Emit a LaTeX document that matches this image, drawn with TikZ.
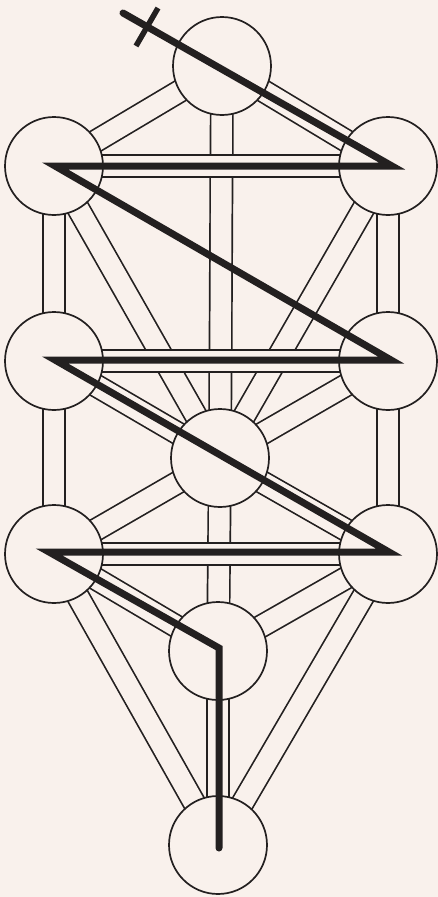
\documentclass[tikz,border=0pt]{standalone}
\definecolor{bg}{RGB}{249,241,236}
\definecolor{ink}{RGB}{35,32,32}
\begin{document}
\begin{tikzpicture}[x=1pt,y=-1pt,
  channel/.style={draw=ink, line width=1.7pt, double=bg, double distance=20.5pt},
  sephira/.style={circle, draw=ink, line width=1.7pt, fill=bg, minimum size=98pt, inner sep=0pt},
  flash/.style={draw=ink, line width=7pt, line join=miter, miter limit=20, line cap=round},
  crossbar/.style={draw=ink, line width=5.5pt}]
\fill[bg] (0,0) rectangle (438,897);
\useasboundingbox (0,0) rectangle (438,897);
% sephirot centres
\coordinate (K) at (222,66);
\coordinate (Bi) at (54,166);
\coordinate (Ch) at (388,166);
\coordinate (Ge) at (54,361);
\coordinate (Cs) at (388,361);
\coordinate (Ti) at (220,458);
\coordinate (Ho) at (54,554);
\coordinate (Ne) at (388,554);
\coordinate (Ye) at (218,651);
\coordinate (Ma) at (218,845);
% paths
\draw[channel] (K) -- (Ch);
\draw[channel] (K) -- (Bi);
\draw[channel] (K) -- (Ti);
\draw[channel] (Ch) -- (Ti);
\draw[channel] (Bi) -- (Ti);
\draw[channel] (Ch) -- (Cs);
\draw[channel] (Bi) -- (Ge);
\draw[channel] (Cs) -- (Ti);
\draw[channel] (Ge) -- (Ti);
\draw[channel] (Cs) -- (Ne);
\draw[channel] (Ge) -- (Ho);
\draw[channel] (Ti) -- (Ne);
\draw[channel] (Ti) -- (Ho);
\draw[channel] (Ti) -- (Ye);
\draw[channel] (Ne) -- (Ye);
\draw[channel] (Ho) -- (Ye);
\draw[channel] (Ne) -- (Ma);
\draw[channel] (Ho) -- (Ma);
\draw[channel] (Ye) -- (Ma);
\draw[channel] (Bi) -- (Ch);
\draw[channel] (Ge) -- (Cs);
\draw[channel] (Ho) -- (Ne);
% circles
\foreach \s in {K,Bi,Ch,Ge,Cs,Ti,Ho,Ne,Ye,Ma}
  \node[sephira] (n\s) at (\s) {};
% lightning flash
\coordinate (f0) at (123,13);
\coordinate (f1) at (392,166);
\coordinate (f2) at (55,166);
\coordinate (f3) at (391,360);
\coordinate (f4) at (55,360);
\coordinate (f5) at (389,552);
\coordinate (f6) at (49,552);
\coordinate (f7) at (219,648);
\coordinate (f8) at (219,848);
\draw[flash] (f0) -- (f1) -- (f2) -- (f3) -- (f4) -- (f5) -- (f6) -- (f7) -- (f8);
\coordinate (c1) at (136,46);
\coordinate (c2) at (158,8);
\draw[crossbar] (c1) -- (c2);
\end{tikzpicture}
\end{document}
